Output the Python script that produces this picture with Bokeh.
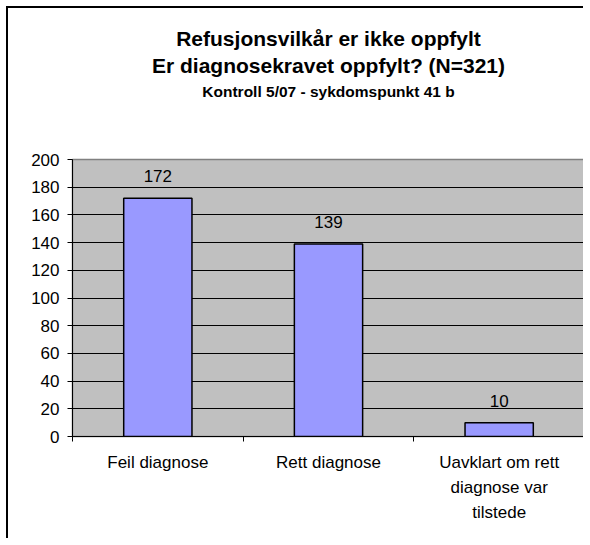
from bokeh.plotting import figure
from bokeh.models import (ColumnDataSource, Range1d, FixedTicker, Title)
from bokeh.embed import file_html
from bokeh.resources import INLINE

# ---- data ----
categories = ["Feil diagnose", "Rett diagnose", "Uavklart om rett\ndiagnose var\ntilstede"]
values = [172, 139, 10]
y_ticks = [0, 20, 40, 60, 80, 100, 120, 140, 160, 180, 200]
title_lines = ["Refusjonsvilkår er ikke oppfylt",
               "Er diagnosekravet oppfylt? (N=321)",
               "Kontroll 5/07 - sykdomspunkt 41 b"]

FONT = "Liberation Sans"
xpos = [i + 0.5 for i in range(len(categories))]
src = ColumnDataSource(dict(x=xpos, top=values, label=[str(v) for v in values]))

p = figure(width=577, height=532, output_backend="svg", toolbar_location=None,
           x_range=Range1d(0, len(categories)), y_range=Range1d(0, 200),
           min_border_left=64, min_border_right=1, min_border_top=151,
           min_border_bottom=104, title=None)
p.styles = {"margin-left": "6px", "margin-top": "6px",
            "border-left": "2px solid black", "border-top": "2px solid black"}

p.background_fill_color = "#C0C0C0"
p.border_fill_color = "white"
p.outline_line_color = "#808080"
p.outline_line_width = 1.5

# spacer between the subtitle and the plot area (first added sits closest)
p.add_layout(Title(text=" ", text_font_size="1px", standoff=55), "above")
# titles
for txt, size, so in zip(reversed(title_lines), ["15.5px", "21px", "21px"], [4, 4, 0]):
    p.add_layout(Title(text=txt, text_font=FONT, text_font_size=size,
                       text_font_style="bold", align="center", standoff=so,
                       text_color="black"), "above")

# bars
p.vbar(x="x", top="top", width=0.4, bottom=0, source=src,
       fill_color="#9999FF", line_color="black", line_width=1.5)
p.text(x="x", y="top", text="label", source=src, text_align="center",
       text_baseline="middle", y_offset=-22, text_font_size="17px",
       text_font={"value": FONT}, text_color="black")

# x axis
xa = p.xaxis[0]
xa.ticker = FixedTicker(ticks=xpos, minor_ticks=[0, 1, 2, 3])
xa.major_label_overrides = {x: c for x, c in zip(xpos, categories)}
xa.major_tick_out = 0
xa.major_tick_in = 0
xa.minor_tick_out = 5
xa.minor_tick_in = 0
xa.minor_tick_line_color = "black"
xa.major_label_standoff = 11
xa.major_label_text_font = FONT
xa.major_label_text_font_size = "17px"
xa.major_label_text_color = "black"
xa.major_label_text_line_height = 1.34
xa.axis_line_color = "black"

# y axis
ya = p.yaxis[0]
ya.ticker = FixedTicker(ticks=y_ticks)
ya.major_tick_out = 5
ya.major_tick_in = 0
ya.minor_tick_out = 0
ya.minor_tick_in = 0
ya.major_label_standoff = 8
ya.major_label_text_font = FONT
ya.major_label_text_font_size = "17px"
ya.major_label_text_color = "black"
ya.axis_line_color = "black"

# grid
p.xgrid.visible = False
p.ygrid.ticker = FixedTicker(ticks=y_ticks[1:-1])
p.ygrid.grid_line_color = "black"
p.ygrid.grid_line_width = 1

open("out.html", "w").write(file_html(p, INLINE))
